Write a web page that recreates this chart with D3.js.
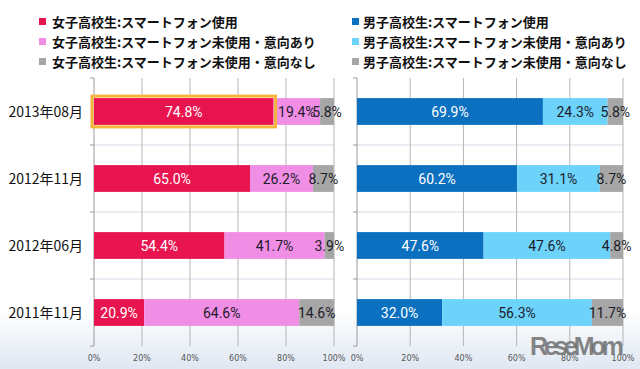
<!DOCTYPE html>
<html>
<head>
<meta charset="utf-8">
<script src="https://cdn.jsdelivr.net/npm/d3@7"></script>
<style>
  body { margin: 0; background: #fff; }
  svg { display: block; }
</style>
</head>
<body>
<svg id="chart" width="640" height="369"></svg>
<script>
var periods = ["2013年08月", "2012年11月", "2012年06月", "2011年11月"];

var girlsUse  = [74.8, 65.0, 54.4, 20.9];
var girlsWant = [19.4, 26.2, 41.7, 64.6];
var girlsNot  = [5.8, 8.7, 3.9, 14.6];

var boysUse  = [69.9, 60.2, 47.6, 32.0];
var boysWant = [24.3, 31.1, 47.6, 56.3];
var boysNot  = [5.8, 8.7, 4.8, 11.7];

var girlsLegend = ["女子高校生:スマートフォン使用", "女子高校生:スマートフォン未使用・意向あり", "女子高校生:スマートフォン未使用・意向なし"];
var boysLegend  = ["男子高校生:スマートフォン使用", "男子高校生:スマートフォン未使用・意向あり", "男子高校生:スマートフォン未使用・意向なし"];

var xTicks = [0, 20, 40, 60, 80, 100];

var girlsColors = ["#e8144f", "#f08ee6", "#a6a6a6"];
var boysColors  = ["#0a70bf", "#6dd3fb", "#a6a6a6"];

var svg = d3.select("#chart");

// background with the pale blue band at the bottom
var defs = svg.append("defs");
var grad = defs.append("linearGradient")
               .attr("id", "bg")
               .attr("x1", 0).attr("y1", 0)
               .attr("x2", 0).attr("y2", 1);
grad.append("stop").attr("offset", "0.84").attr("stop-color", "#ffffff");
grad.append("stop").attr("offset", "1").attr("stop-color", "#dfe7f2");

svg.append("rect")
   .attr("width", 640)
   .attr("height", 369)
   .attr("fill", "url(#bg)");

var y = d3.scaleBand()
          .domain(periods)
          .range([78, 346])
          .paddingInner(0.6)
          .paddingOuter(0.3);

function drawPanel(x0, x1, use, want, not, colors, highlight) {

  var x = d3.scaleLinear().domain([0, 100]).range([x0, x1]);
  var g = svg.append("g");

  var boundaries = d3.range(periods.length + 1).map(function(i){
                     return y.range()[0] + i * y.step();
                   });

  // horizontal separators
  g.selectAll(".hgrid")
   .data(boundaries.slice(1, -1))
   .enter()
   .append("line")
   .attr("x1", x0).attr("x2", x1)
   .attr("y1", function(d){ return d; })
   .attr("y2", function(d){ return d; })
   .attr("stroke", "#d3dbe6")
   .attr("stroke-width", 1);

  // vertical grid
  g.selectAll(".vgrid")
   .data(xTicks)
   .enter()
   .append("line")
   .attr("x1", function(d){ return x(d); })
   .attr("x2", function(d){ return x(d); })
   .attr("y1", y.range()[0])
   .attr("y2", y.range()[1])
   .attr("stroke", function(d){ return d == 0 ? "#9a9a9a" : "#b4b4b4"; })
   .attr("stroke-width", 1);

  // small ticks on the left axis
  g.selectAll(".ytick")
   .data(boundaries)
   .enter()
   .append("line")
   .attr("x1", x0 - 4).attr("x2", x0)
   .attr("y1", function(d){ return d; })
   .attr("y2", function(d){ return d; })
   .attr("stroke", "#9a9a9a");

  var rows = periods.map(function(p, i){
    return {period: p, use: use[i], want: want[i], not: not[i]};
  });

  var stack = d3.stack().keys(["use", "want", "not"]);
  var series = stack(rows);

  series.forEach(function(s, k){
    var grp = g.append("g");

    grp.selectAll("rect")
       .data(s)
       .enter()
       .append("rect")
       .attr("x", function(d){ return x(d[0]); })
       .attr("y", function(d){ return y(d.data.period); })
       .attr("width", function(d){ return x(d[1]) - x(d[0]); })
       .attr("height", y.bandwidth())
       .attr("fill", colors[k]);
  });

  if (highlight) {
    var s0 = series[0][0];
    g.append("rect")
     .attr("x", x(s0[0]) - 2)
     .attr("y", y(s0.data.period) - 2)
     .attr("width", x(s0[1]) - x(s0[0]) + 4)
     .attr("height", y.bandwidth() + 4)
     .attr("fill", "none")
     .attr("stroke", "#f5b53a")
     .attr("stroke-width", 3);
  }

  series.forEach(function(s, k){
    g.append("g")
     .selectAll("text")
     .data(s)
     .enter()
     .append("text")
     .attr("x", function(d){ return (x(d[0]) + x(d[1])) / 2; })
     .attr("y", function(d){ return y(d.data.period) + y.bandwidth() / 2; })
     .attr("dy", "0.36em")
     .attr("text-anchor", "middle")
     .style("font-family", "'Liberation Sans Narrow', 'Roboto', sans-serif")
     .style("font-size", "14px")
     .attr("fill", k == 0 ? "#ffffff" : "#1c1c2a")
     .text(function(d){ return d.data[s.key].toFixed(1) + "%"; });
  });

  // x tick labels
  g.selectAll(".xlab")
   .data(xTicks)
   .enter()
   .append("text")
   .attr("x", function(d){ return x(d); })
   .attr("y", 361)
   .attr("text-anchor", "middle")
   .style("font-family", "'DejaVu Sans', sans-serif")
   .style("font-size", "8px")
   .attr("fill", "#555")
   .text(function(d){ return d + "%"; });
}

function drawLegend(xSq, xText, labels, colors) {
  var g = svg.append("g");
  var rowY = [22, 42, 62];

  var items = g.selectAll("g")
               .data(labels)
               .enter()
               .append("g");

  items.append("rect")
       .attr("x", xSq)
       .attr("y", function(d, i){ return rowY[i] - 4; })
       .attr("width", 7)
       .attr("height", 7)
       .attr("fill", function(d, i){ return colors[i]; });

  items.append("text")
       .attr("x", xText)
       .attr("y", function(d, i){ return rowY[i]; })
       .attr("dy", "0.36em")
       .style("font-family", "'Noto Sans CJK JP', sans-serif")
       .style("font-size", "13px")
       .style("font-weight", "bold")
       .attr("fill", "#111")
       .text(function(d){ return d; });
}

// period labels
svg.append("g")
   .selectAll("text")
   .data(periods)
   .enter()
   .append("text")
   .attr("x", 83)
   .attr("y", function(d){ return y(d) + y.bandwidth() / 2; })
   .attr("dy", "0.36em")
   .attr("text-anchor", "end")
   .style("font-family", "'Noto Sans CJK JP', sans-serif")
   .style("font-size", "14px")
   .attr("fill", "#111")
   .text(function(d){ return d; });

drawPanel(94, 334, girlsUse, girlsWant, girlsNot, girlsColors, true);
drawPanel(357, 623, boysUse, boysWant, boysNot, boysColors, false);

drawLegend(39, 52, girlsLegend, girlsColors);
drawLegend(352, 363, boysLegend, boysColors);

// watermark
svg.append("text")
   .attr("x", 530)
   .attr("y", 355)
   .attr("textLength", 94)
   .style("font-family", "'Liberation Sans Narrow', sans-serif")
   .style("font-size", "25px")
   .style("font-weight", "bold")
   .attr("fill", "#6f6f6f")
   .attr("fill-opacity", 0.85)
   .text("ReseMom");
</script>
</body>
</html>
